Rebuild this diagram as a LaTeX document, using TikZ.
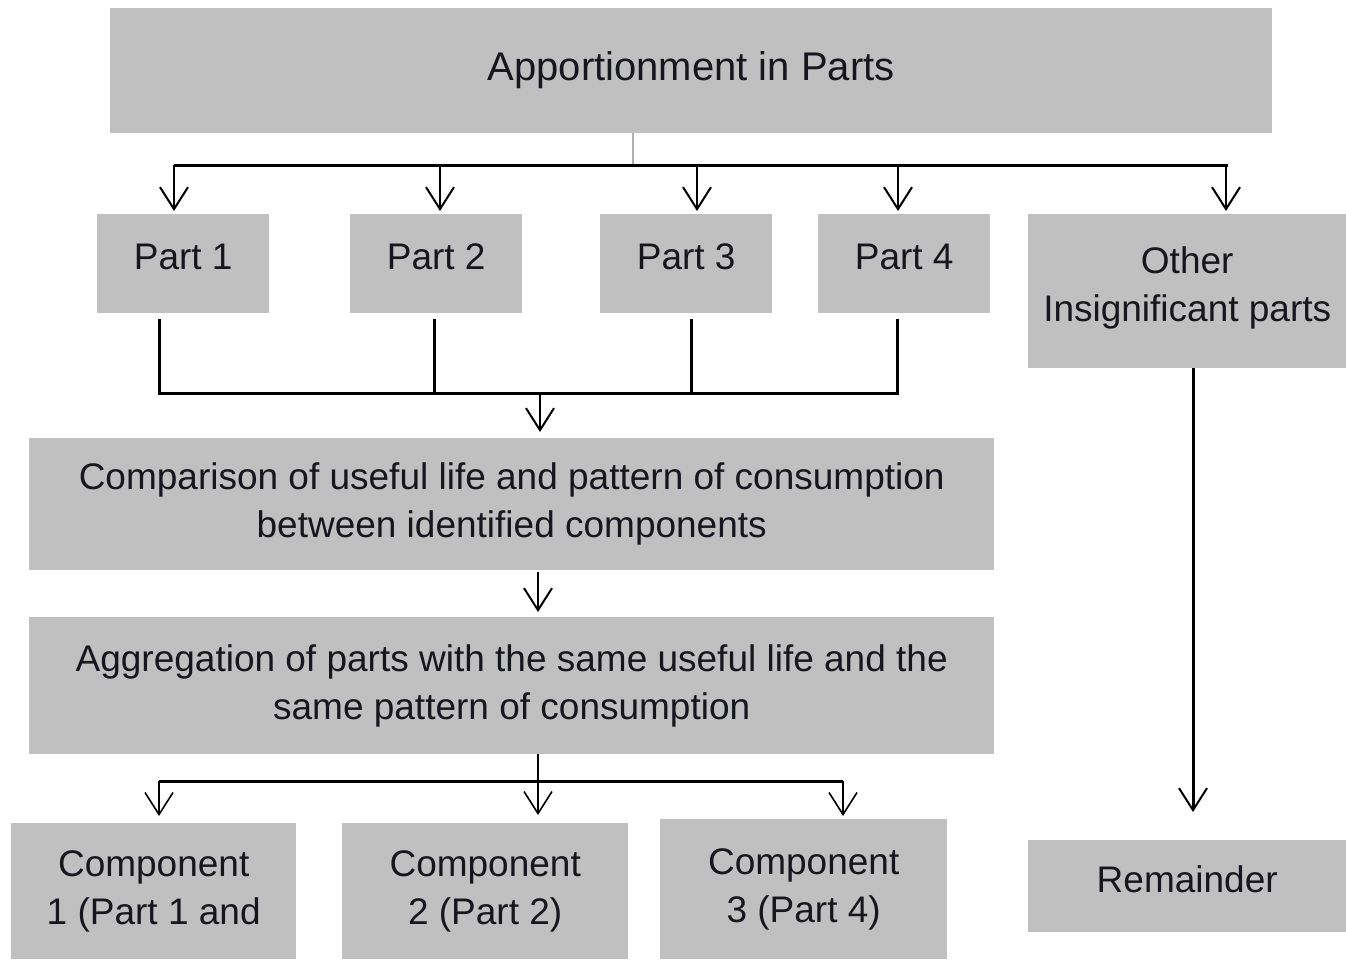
\documentclass[tikz,border=0pt]{standalone}
\usepackage{fontspec}
\setmainfont{Liberation Sans}
\usetikzlibrary{arrows.meta,calc}
\definecolor{boxgray}{RGB}{192,192,192}
\definecolor{textc}{RGB}{22,22,30}
\definecolor{linkgray}{RGB}{175,175,175}
\begin{document}
\begin{tikzpicture}[x=1pt,y=-1pt,
  box/.style={fill=boxgray, draw=none, inner sep=0pt, text=textc, align=center,
    anchor=north west, font=\fontsize{37}{48}\selectfont},
  bus/.style={line width=3pt, draw=black},
  arr/.style={line width=2pt, draw=black, -{Straight Barb[length=22pt,width=28pt,line width=2pt]}},
  thinarr/.style={line width=1.6pt, draw=black, -{Straight Barb[length=22pt,width=28pt,line width=1.6pt]}}]
\useasboundingbox (0,0) rectangle (1346,959);

% boxes
\node[box, minimum width=1162pt, minimum height=125pt, font=\fontsize{40}{48}\selectfont] (top) at (110,8) {Apportionment in Parts\rule[-10pt]{0pt}{1pt}};
\node[box, minimum width=172pt, minimum height=99pt] (p1) at (97,214) {Part 1\rule[-14pt]{0pt}{1pt}};
\node[box, minimum width=172pt, minimum height=99pt] (p2) at (350,214) {Part 2\rule[-14pt]{0pt}{1pt}};
\node[box, minimum width=172pt, minimum height=99pt] (p3) at (600,214) {Part 3\rule[-14pt]{0pt}{1pt}};
\node[box, minimum width=172pt, minimum height=99pt] (p4) at (818,214) {Part 4\rule[-14pt]{0pt}{1pt}};
\node[box, minimum width=318pt, minimum height=154pt] (other) at (1028,214) {Other\\Insignificant parts\rule[-14pt]{0pt}{1pt}};
\node[box, minimum width=965pt, minimum height=132pt] (comp) at (29,438) {Comparison of useful life and pattern of consumption\\between identified components};
\node[box, minimum width=965pt, minimum height=137pt] (agg) at (29,617) {Aggregation of parts with the same useful life and the\\same pattern of consumption};
\node[box, minimum width=285pt, minimum height=136pt] (c1) at (11,823) {Component\\1 (Part 1 and};
\node[box, minimum width=286pt, minimum height=136pt] (c2) at (342,823) {Component\\2 (Part 2)};
\node[box, minimum width=287pt, minimum height=140pt] (c3) at (660,819) {Component\\3 (Part 4)};
\node[box, minimum width=318pt, minimum height=92pt] (rem) at (1028,840) {Remainder\rule[-14pt]{0pt}{1pt}};

% top distribution
\coordinate (g0) at (633,165);
\coordinate (busL) at (174,165);
\coordinate (busR) at (1228,165);
\draw[linkgray, line width=2pt] (g0 |- top.south) -- (g0);
\draw[bus] (busL) -- (busR);
\coordinate (a1) at (174,165);
\coordinate (a2) at (440,165);
\coordinate (a3) at (697,165);
\coordinate (a4) at (898,165);
\coordinate (a5) at (1226,165);
\coordinate (t1) at (174,211);
\coordinate (t2) at (440,211);
\coordinate (t3) at (697,211);
\coordinate (t4) at (898,211);
\coordinate (t5) at (1226,211);
\draw[arr] (a1) -- (t1);
\draw[arr] (a2) -- (t2);
\draw[arr] (a3) -- (t3);
\draw[arr] (a4) -- (t4);
\draw[arr] (a5) -- (t5);

% parts to comparison
\coordinate (d1) at (159,319);
\coordinate (d2) at (434,319);
\coordinate (d3) at (691,319);
\coordinate (d4) at (897,319);
\coordinate (e1) at (159,393);
\coordinate (e2) at (434,393);
\coordinate (e3) at (691,393);
\coordinate (e4) at (897,393);
\draw[bus] (d1) -- (e1) -- (e4) -- (d4);
\draw[bus] (d2) -- (e2);
\draw[bus] (d3) -- (e3);
\coordinate (m1) at (540,393);
\coordinate (m1t) at (540,432);
\draw[arr] (m1) -- (m1t);

% comparison to aggregation
\coordinate (m2) at (538,572);
\coordinate (m2t) at (538,612);
\draw[arr] (m2) -- (m2t);

% aggregation to components
\coordinate (f0) at (538,754);
\coordinate (f2) at (538,815);
\coordinate (h1) at (159,781);
\coordinate (h3) at (843,781);
\coordinate (k1) at (159,816);
\coordinate (k3) at (843,816);
\draw[bus] (h1) -- (h3);
\draw[thinarr] (f0) -- (f2);
\draw[thinarr] (h1) -- (k1);
\draw[thinarr] (h3) -- (k3);

% other to remainder
\coordinate (r0) at (1193,368);
\coordinate (r1) at (1193,812);
\draw[line width=3pt, draw=black, -{Straight Barb[length=22pt,width=28pt,line width=2pt]}] (r0) -- (r1);
\end{tikzpicture}
\end{document}
